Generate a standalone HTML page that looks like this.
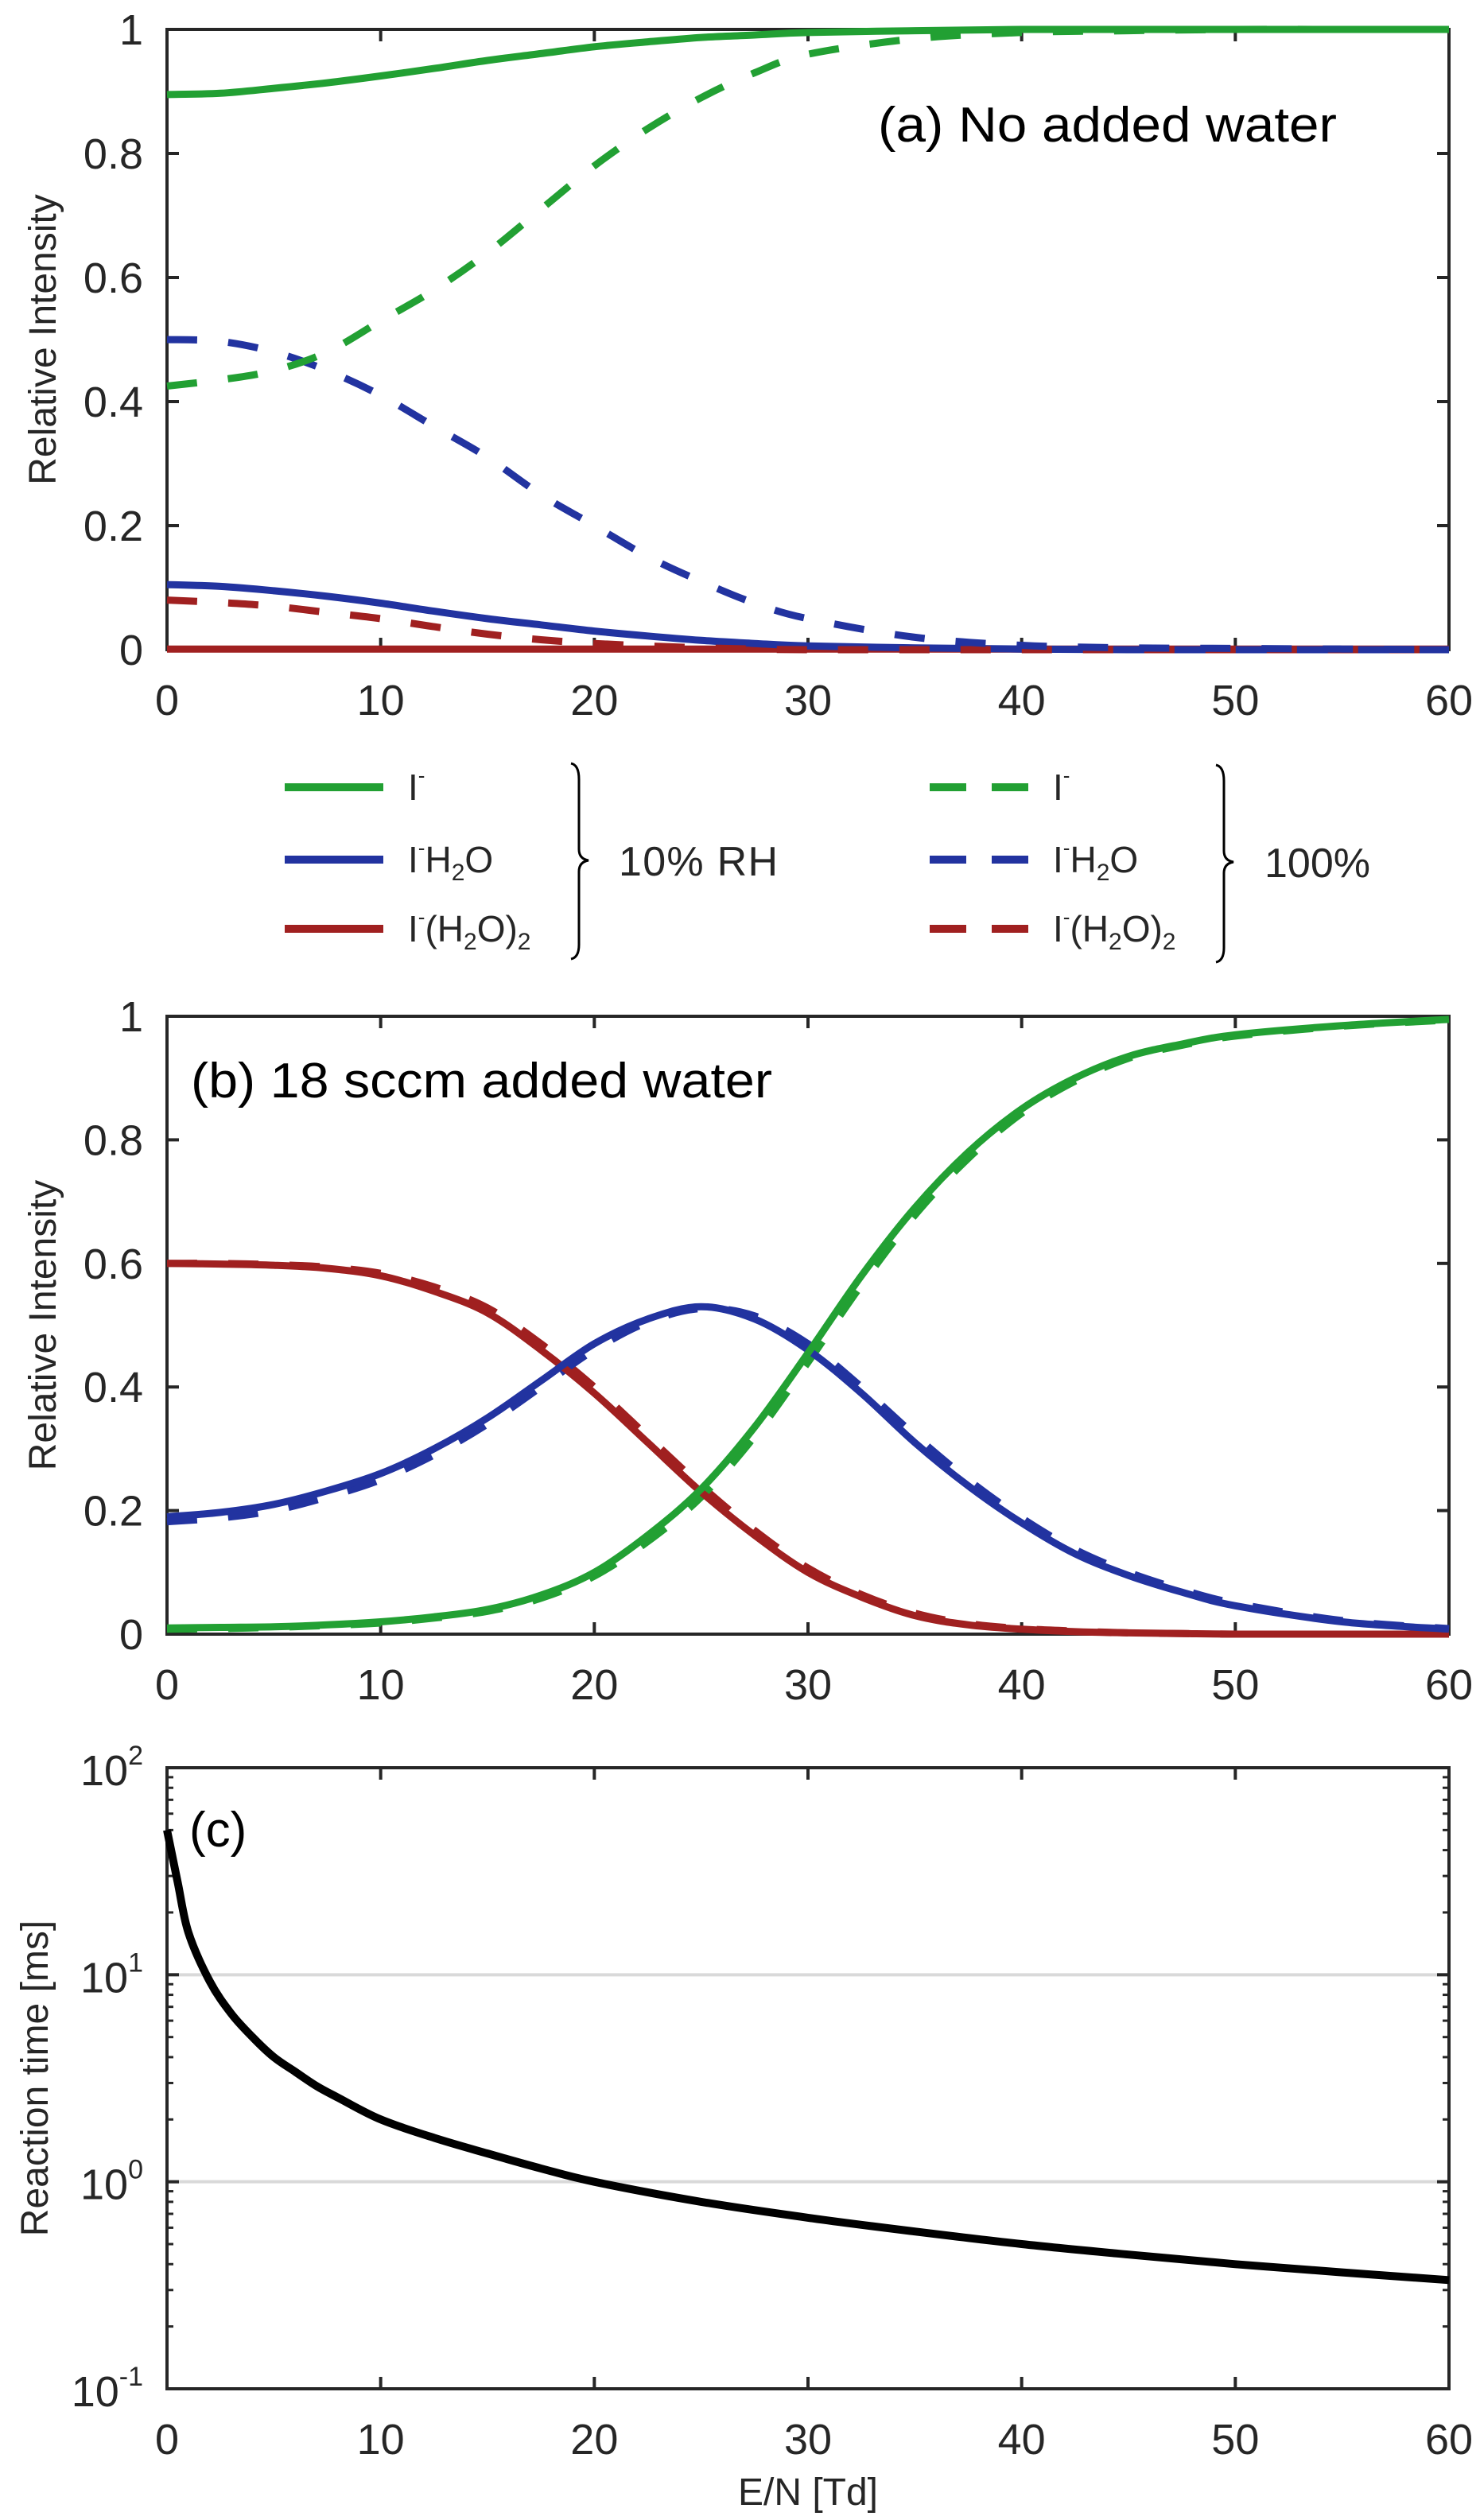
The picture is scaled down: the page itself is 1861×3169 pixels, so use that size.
<!DOCTYPE html>
<html><head><meta charset="utf-8"><style>
html,body{margin:0;padding:0;background:#fff}
svg{display:block}
text{font-family:"Liberation Sans",Arial,sans-serif;fill:#262626}
.cal{font-family:"Liberation Sans",sans-serif;fill:#000}
</style></head><body>
<svg id="fig" width="1861" height="3169" viewBox="0 0 1861 3169" xmlns="http://www.w3.org/2000/svg">
<g id="pa"></g>
<g id="leg">
  <line x1="358" y1="990" x2="482" y2="990" stroke="#22a033" stroke-width="10"/>
  <text x="513" y="1006" font-size="46">I<tspan font-size="26" dy="-22">-</tspan></text>
  <line x1="358" y1="1081" x2="482" y2="1081" stroke="#2233a0" stroke-width="10"/>
  <text x="513" y="1097" font-size="46">I<tspan font-size="26" dy="-22">-</tspan><tspan dy="22">H</tspan><tspan font-size="30" dy="10">2</tspan><tspan dy="-10">O</tspan></text>
  <line x1="358" y1="1168" x2="482" y2="1168" stroke="#a02020" stroke-width="10"/>
  <text x="513" y="1184" font-size="46">I<tspan font-size="26" dy="-22">-</tspan><tspan dy="22">(H</tspan><tspan font-size="30" dy="10">2</tspan><tspan dy="-10">O)</tspan><tspan font-size="30" dy="10">2</tspan></text>
  <path d="M718 960 Q728 962 728 980 L728 1068 Q728 1080 740 1082 Q728 1084 728 1096 L728 1188 Q728 1204 718 1206" fill="none" stroke="#000" stroke-width="3"/>
  <text x="778" y="1101" font-size="52" fill="#000" textLength="200">10% RH</text>
  <line x1="1169" y1="990" x2="1293" y2="990" stroke="#22a033" stroke-width="10" stroke-dasharray="46 32"/>
  <text x="1324" y="1006" font-size="46">I<tspan font-size="26" dy="-22">-</tspan></text>
  <line x1="1169" y1="1081" x2="1293" y2="1081" stroke="#2233a0" stroke-width="10" stroke-dasharray="46 32"/>
  <text x="1324" y="1097" font-size="46">I<tspan font-size="26" dy="-22">-</tspan><tspan dy="22">H</tspan><tspan font-size="30" dy="10">2</tspan><tspan dy="-10">O</tspan></text>
  <line x1="1169" y1="1168" x2="1293" y2="1168" stroke="#a02020" stroke-width="10" stroke-dasharray="46 32"/>
  <text x="1324" y="1184" font-size="46">I<tspan font-size="26" dy="-22">-</tspan><tspan dy="22">(H</tspan><tspan font-size="30" dy="10">2</tspan><tspan dy="-10">O)</tspan><tspan font-size="30" dy="10">2</tspan></text>
  <path d="M1529 962 Q1539 964 1539 982 L1539 1070 Q1539 1082 1551 1084 Q1539 1086 1539 1098 L1539 1192 Q1539 1208 1529 1210" fill="none" stroke="#000" stroke-width="3"/>
  <text x="1590" y="1103" font-size="52" fill="#000">100%</text>
</g>
<g id="pb"></g>
<g id="pc"></g>
</svg>
<script>
const xTicks=[0,10,20,30,40,50,60];
const linTicks=[0,0.2,0.4,0.6,0.8,1];
const linTickLabels=["0","0.2","0.4","0.6","0.8","1"];
// Panel a
const aX=[0,2.5,5,7.5,10,12.5,15,17.5,20,22.5,25,27.5,30,35,40,45,50,55,60];
const aGreenSolid=[0.895,0.897,0.905,0.914,0.925,0.937,0.95,0.961,0.972,0.98,0.987,0.991,0.995,0.998,1,1,1,1,1];
const aGreenDash=[0.425,0.435,0.45,0.48,0.53,0.58,0.64,0.71,0.78,0.84,0.89,0.93,0.96,0.985,0.995,0.998,1,1,1];
const aBlueDash=[0.5,0.497,0.48,0.45,0.41,0.36,0.31,0.25,0.2,0.15,0.11,0.075,0.05,0.02,0.007,0.003,0.002,0.001,0];
const aBlueSolid=[0.105,0.102,0.095,0.086,0.075,0.062,0.05,0.04,0.03,0.022,0.015,0.01,0.006,0.003,0.001,0,0,0,0];
const aRedDash=[0.08,0.076,0.07,0.06,0.05,0.037,0.025,0.016,0.01,0.006,0.003,0.001,0,0,0,0,0,0,0];
const aRedSolid=[0.001,0.001,0.001,0.001,0.001,0.001,0.001,0.001,0.001,0.001,0.001,0.001,0.001,0.001,0.001,0.001,0.001,0.001,0.001];
// Panel b
const bX=[0,2.5,5,7.5,10,12.5,15,17.5,20,22.5,25,27.5,30,32.5,35,37.5,40,42.5,45,47.5,50,55,60];
const bGreenSolid=[0.01,0.011,0.012,0.015,0.02,0.028,0.04,0.063,0.1,0.16,0.235,0.335,0.455,0.58,0.69,0.78,0.85,0.9,0.935,0.955,0.97,0.985,0.995];
const bGreenDash=[0.008,0.009,0.011,0.014,0.018,0.026,0.037,0.058,0.094,0.15,0.222,0.32,0.44,0.565,0.678,0.77,0.843,0.895,0.932,0.953,0.968,0.984,0.994];
const bBlueSolid=[0.19,0.197,0.21,0.232,0.26,0.3,0.35,0.41,0.47,0.51,0.53,0.51,0.46,0.39,0.31,0.24,0.18,0.13,0.095,0.068,0.046,0.02,0.008];
const bBlueDash=[0.182,0.188,0.2,0.222,0.25,0.29,0.34,0.4,0.46,0.505,0.527,0.515,0.47,0.4,0.322,0.25,0.188,0.137,0.1,0.072,0.05,0.022,0.009];
const bRedSolid=[0.6,0.599,0.597,0.592,0.58,0.555,0.52,0.46,0.39,0.31,0.23,0.16,0.1,0.06,0.03,0.015,0.008,0.004,0.002,0.001,0,0,0];
const bRedDash=[0.6,0.6,0.598,0.594,0.584,0.562,0.528,0.47,0.4,0.32,0.24,0.168,0.107,0.064,0.034,0.017,0.009,0.005,0.002,0.001,0,0,0];
// Panel c
const cX=[0,0.5,1,2,3,4,5,6,7,8,10,12.5,15,17.5,20,25,30,35,40,45,50,55,60];
const cTime=[50,28,16,9.3,6.5,5,4,3.4,2.9,2.55,2.0,1.63,1.37,1.16,1.0,0.8,0.67,0.575,0.5,0.445,0.4,0.365,0.335];
const logTicks=[0.1,1,10,100];
const logTickExp=["-1","0","1","2"];

const NS="http://www.w3.org/2000/svg";
const L=210,R=1822;
function mk(parent,tag,attrs){const e=document.createElementNS(NS,tag);for(const k in attrs)e.setAttribute(k,attrs[k]);parent.appendChild(e);return e;}
function xs(v){return L+(R-L)*v/60;}
function smooth(pts){
  let d="M"+pts[0][0].toFixed(1)+" "+pts[0][1].toFixed(1);
  for(let i=0;i<pts.length-1;i++){
    const p0=pts[Math.max(0,i-1)],p1=pts[i],p2=pts[i+1],p3=pts[Math.min(pts.length-1,i+2)];
    const c1=[p1[0]+(p2[0]-p0[0])/6,p1[1]+(p2[1]-p0[1])/6];
    const c2=[p2[0]-(p3[0]-p1[0])/6,p2[1]-(p3[1]-p1[1])/6];
    d+=" C"+c1[0].toFixed(1)+" "+c1[1].toFixed(1)+" "+c2[0].toFixed(1)+" "+c2[1].toFixed(1)+" "+p2[0].toFixed(1)+" "+p2[1].toFixed(1);
  }
  return d;
}
function series(g,xArr,yArr,ys,color,dash,name,w){
  const pts=xArr.map((x,i)=>[xs(x),ys(yArr[i])]);
  const p=mk(g,"path",{d:smooth(pts),fill:"none",stroke:color,"stroke-width":w||9});
  if(dash)p.setAttribute("stroke-dasharray","38 39");
  
  
}
function linPanel(id,T,B,label,lx,ly,tl){
  const g=document.getElementById(id);
  const ys=v=>B-(B-T)*v;
  const fr=mk(g,"rect",{x:L,y:T,width:R-L,height:B-T,fill:"none",stroke:"#262626","stroke-width":4});
  
  
  xTicks.forEach(t=>{
    const a=mk(g,"line",{x1:xs(t),x2:xs(t),y1:B,y2:B-15,stroke:"#262626","stroke-width":4});
    
    
    const b=mk(g,"line",{x1:xs(t),x2:xs(t),y1:T,y2:T+15,stroke:"#262626","stroke-width":4});
    
    
    const tx=mk(g,"text",{x:xs(t),y:B+82,"font-size":54,"text-anchor":"middle"});
    tx.textContent=String(t);
    
    
  });
  linTicks.forEach((t,i)=>{
    const a=mk(g,"line",{x1:L,x2:L+15,y1:ys(t),y2:ys(t),stroke:"#262626","stroke-width":4});
    
    
    const b=mk(g,"line",{x1:R,x2:R-15,y1:ys(t),y2:ys(t),stroke:"#262626","stroke-width":4});
    
    
    const tx=mk(g,"text",{x:180,y:ys(t)+19,"font-size":54,"text-anchor":"end"});
    tx.textContent=linTickLabels[i];
    
    
  });
  const yt=mk(g,"text",{x:0,y:0,"font-size":48,"text-anchor":"middle",transform:"translate(70 "+((T+B)/2)+") rotate(-90)"});
  yt.textContent="Relative Intensity";
  
  
  const pl=mk(g,"text",{x:lx,y:ly,"font-size":62,"class":"cal",textLength:tl,lengthAdjust:"spacingAndGlyphs"});
  pl.textContent=label;
  
  
  return {g,ys};
}
// Panel a
(function(){
  const {g,ys}=linPanel("pa",37,817,"(a) No added water",1104,178,577);
  series(g,aX,aRedSolid,ys,"#a02020",false,"series-ih2o2-10rh");
  series(g,aX,aBlueSolid,ys,"#2233a0",false,"series-ih2o-10rh");
  series(g,aX,aGreenSolid,ys,"#22a033",false,"series-i-10rh");
  series(g,aX,aRedDash,ys,"#a02020",true,"series-ih2o2-100");
  series(g,aX,aBlueDash,ys,"#2233a0",true,"series-ih2o-100");
  series(g,aX,aGreenDash,ys,"#22a033",true,"series-i-100");
})();
// Panel b
(function(){
  const {g,ys}=linPanel("pb",1278,2055,"(b) 18 sccm added water",240,1380,731);
  series(g,bX,bRedDash,ys,"#a02020",true,"series-ih2o2-100");
  series(g,bX,bBlueDash,ys,"#2233a0",true,"series-ih2o-100");
  series(g,bX,bGreenDash,ys,"#22a033",true,"series-i-100");
  series(g,bX,bRedSolid,ys,"#a02020",false,"series-ih2o2-10rh");
  series(g,bX,bBlueSolid,ys,"#2233a0",false,"series-ih2o-10rh");
  series(g,bX,bGreenSolid,ys,"#22a033",false,"series-i-10rh");
})();
// Panel c
(function(){
  const g=document.getElementById("pc");
  const T=2223,B=3004;
  const ys=v=>B-(B-T)*(Math.log10(v)+1)/3;
  [1,10].forEach(v=>{
    const gl=mk(g,"line",{x1:L,x2:R,y1:ys(v),y2:ys(v),stroke:"#d9d9d9","stroke-width":4});
    
    
  });
  const fr=mk(g,"rect",{x:L,y:T,width:R-L,height:B-T,fill:"none",stroke:"#262626","stroke-width":4});
  
  
  xTicks.forEach(t=>{
    const a=mk(g,"line",{x1:xs(t),x2:xs(t),y1:B,y2:B-15,stroke:"#262626","stroke-width":4});
    
    
    const b=mk(g,"line",{x1:xs(t),x2:xs(t),y1:T,y2:T+15,stroke:"#262626","stroke-width":4});
    
    
    const tx=mk(g,"text",{x:xs(t),y:B+82,"font-size":54,"text-anchor":"middle"});
    tx.textContent=String(t);
    
    
  });
  for(let e=-1;e<2;e++){for(let m=2;m<=9;m++){const v=m*Math.pow(10,e);
    const a=mk(g,"line",{x1:L,x2:L+8,y1:ys(v),y2:ys(v),stroke:"#262626","stroke-width":3});
    
    
    const b=mk(g,"line",{x1:R,x2:R-8,y1:ys(v),y2:ys(v),stroke:"#262626","stroke-width":3});
    
    
  }}
  logTicks.forEach((v,i)=>{
    const a=mk(g,"line",{x1:L,x2:L+15,y1:ys(v),y2:ys(v),stroke:"#262626","stroke-width":4});
    
    
    const b=mk(g,"line",{x1:R,x2:R-15,y1:ys(v),y2:ys(v),stroke:"#262626","stroke-width":4});
    
    
    const tx=mk(g,"text",{x:180,y:ys(v)+22,"font-size":54,"text-anchor":"end"});
    tx.innerHTML='10<tspan font-size="34" dy="-26">'+logTickExp[i]+'</tspan>';
    
    
  });
  const pts=cX.map((x,i)=>[xs(x),ys(cTime[i])]);
  const p=mk(g,"path",{d:smooth(pts),fill:"none",stroke:"#000","stroke-width":10});
  
  
  const yt=mk(g,"text",{x:0,y:0,"font-size":48,"text-anchor":"middle",transform:"translate(60 "+((T+B)/2)+") rotate(-90)"});
  yt.textContent="Reaction time [ms]";
  
  
  const xt=mk(g,"text",{x:(L+R)/2,y:3150,"font-size":48,"text-anchor":"middle"});
  xt.textContent="E/N [Td]";
  
  
  const pl=mk(g,"text",{x:238,y:2322,"font-size":62,"class":"cal"});
  pl.textContent="(c)";
  
  
})();
</script>
</body></html>
